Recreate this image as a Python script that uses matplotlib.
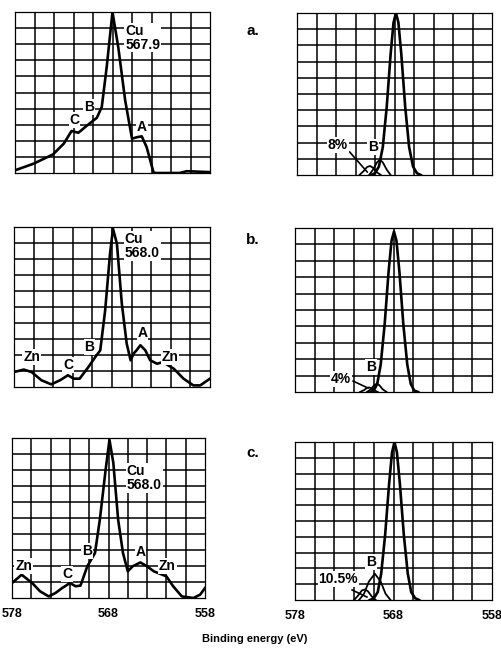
import matplotlib.pyplot as plt

# ----------------------------
# DATOS (eV, intensidad en unidades de 0 a 9)
# ----------------------------

# espectros medidos (columna izquierda)
a_x = [578.0, 576.1, 574.1, 573.0, 572.2, 571.5, 570.6, 569.6, 569.1, 568.6,
       568.0, 567.4, 566.7, 566.0, 565.5, 565.0, 564.5, 563.8, 563.6, 561.1,
       560.4, 558.0]
a_y = [0.15, 0.52, 1.04, 1.64, 2.35, 2.25, 2.66, 3.09, 3.69, 5.9,
       9.0, 7.0, 4.06, 1.92, 2.0, 2.05, 1.45, 0.05, 0.0, 0.0,
       0.1, 0.05]

b_x = [578.0, 577.0, 576.2, 575.2, 574.2, 573.3, 572.5, 571.9, 571.3, 570.4,
       569.7, 569.2, 568.7, 568.2, 567.9, 567.5, 567.0, 566.5, 566.1, 565.8,
       565.5, 565.1, 564.6, 564.1, 563.4, 562.8, 561.7, 560.7, 559.7, 559.0,
       558.0]
b_y = [0.84, 0.98, 0.84, 0.38, 0.15, 0.38, 0.66, 0.47, 0.47, 1.13,
       1.69, 2.06, 4.3, 7.5, 8.9, 8.07, 4.7, 2.44, 1.5, 1.88,
       2.06, 2.35, 2.06, 1.5, 1.31, 1.4, 1.03, 0.47, 0.09, 0.09,
       0.47]

c_x = [578.0, 577.0, 575.9, 575.1, 574.2, 573.5, 572.8, 572.0, 571.4, 570.9,
       570.2, 569.4, 568.9, 568.3, 567.9, 567.5, 567.0, 566.5, 566.0, 565.5,
       564.7, 564.0, 563.3, 562.7, 562.0, 561.3, 560.4, 559.2, 558.5, 558.0]
c_y = [0.84, 1.31, 0.84, 0.38, 0.09, 0.28, 0.56, 0.84, 0.66, 0.7,
       1.78, 2.53, 4.4, 7.2, 8.9, 7.6, 4.4, 2.53, 1.5, 1.78,
       2.0, 1.78, 1.5, 1.37, 1.22, 0.66, 0.09, 0.0, 0.19, 0.56]

# componentes ajustadas (columna derecha)
ra_x = [570.4, 570.0, 569.6, 569.2, 568.8, 568.4, 568.1, 567.85, 567.6, 567.3,
        566.9, 566.5, 566.1, 565.7, 565.3]
ra_y = [0.0, 0.1, 0.47, 1.55, 3.77, 6.7, 8.47, 9.0, 8.47, 6.7,
        3.77, 1.55, 0.47, 0.1, 0.0]
ra_b_x = [570.6, 570.2, 569.8, 569.5, 569.2, 568.8, 568.4]
ra_b_y = [0.0, 0.3, 0.7, 0.85, 0.7, 0.3, 0.0]
ra_c_x = [571.6, 571.2, 570.8, 570.5, 570.2, 569.8, 569.4]
ra_c_y = [0.0, 0.2, 0.45, 0.5, 0.4, 0.15, 0.0]

rb_x = [570.4, 570.0, 569.65, 569.3, 568.9, 568.5, 568.2, 567.95, 567.7, 567.4,
        567.0, 566.6, 566.25, 565.9, 565.5]
rb_y = [0.0, 0.08, 0.45, 1.5, 3.7, 6.6, 8.3, 8.8, 8.3, 6.6,
        3.7, 1.5, 0.45, 0.08, 0.0]
rb_b_x = [570.7, 570.3, 569.95, 569.7, 569.45, 569.1, 568.7]
rb_b_y = [0.0, 0.15, 0.38, 0.45, 0.38, 0.15, 0.0]
rb_c_x = [571.4, 571.0, 570.7, 570.5, 570.3, 570.0, 569.6]
rb_c_y = [0.0, 0.1, 0.22, 0.25, 0.22, 0.1, 0.0]

rc_x = [570.4, 570.0, 569.6, 569.25, 568.85, 568.45, 568.15, 567.9, 567.65, 567.35,
        566.95, 566.55, 566.2, 565.8, 565.4]
rc_y = [0.0, 0.1, 0.45, 1.5, 3.7, 6.6, 8.4, 9.0, 8.4, 6.6,
        3.7, 1.5, 0.45, 0.1, 0.0]
rc_b_x = [571.5, 571.0, 570.5, 569.9, 569.3, 568.8, 568.3]
rc_b_y = [0.0, 0.35, 1.05, 1.5, 1.05, 0.35, 0.0]
rc_c_x = [572.0, 571.6, 571.2, 570.9, 570.6, 570.2, 569.8]
rc_c_y = [0.0, 0.25, 0.55, 0.6, 0.5, 0.2, 0.0]

xticks = [578, 568, 558]

# ----------------------------
# FIGURA
# ----------------------------

fig = plt.figure(figsize=(5.02, 6.52), dpi=100)
plt.rcParams["font.family"] = ["Liberation Sans", "DejaVu Sans"]

W, H = 502, 652


def make_ax(x0, x1, y0, y1):
    ax = fig.add_axes([x0 / W, 1 - y1 / H, (x1 - x0) / W, (y1 - y0) / H])
    ax.set_xlim(578, 558)
    ax.set_ylim(0, 9)
    # papel milimetrado: 10 columnas x 10 filas
    for k in range(1, 10):
        ax.axvline(578 - 2 * k, color="black", lw=1.1, zorder=1)
        ax.axhline(0.9 * k, color="black", lw=1.1, zorder=1)
    for s in ax.spines.values():
        s.set_linewidth(0.9)
    ax.set_xticks([])
    ax.set_yticks([])
    return ax


axes = {
    "a_l": make_ax(15, 210, 12, 173),
    "a_r": make_ax(297, 492, 13, 175),
    "b_l": make_ax(14, 210, 227, 387),
    "b_r": make_ax(295, 492, 228, 392),
    "c_l": make_ax(12, 205, 438, 598),
    "c_r": make_ax(295, 492, 442, 600),
}

lab = dict(fontsize=10, fontweight="bold", ha="center", va="center", zorder=5,
           bbox=dict(facecolor="white", edgecolor="none", pad=0.6))

# ----------------------------
# COLUMNA IZQUIERDA
# ----------------------------

ax = axes["a_l"]
ax.plot(a_x, a_y, color="black", lw=1.9, zorder=3)
ax.text(566.7, 7.57, "Cu\n567.9", linespacing=1.0, **{**lab, "ha": "left"})
ax.text(570.4, 3.69, "B", **lab)
ax.text(571.9, 2.96, "C", **lab)
ax.text(565.0, 2.57, "A", **lab)

ax = axes["b_l"]
ax.plot(b_x, b_y, color="black", lw=1.9, zorder=3)
ax.text(566.7, 7.93, "Cu\n568.0", linespacing=1.0, **{**lab, "ha": "left"})
ax.text(576.2, 1.69, "Zn", **lab)
ax.text(572.5, 1.24, "C", **lab)
ax.text(570.3, 2.25, "B", **lab)
ax.text(564.9, 3.04, "A", **lab)
ax.text(562.1, 1.69, "Zn", **lab)

ax = axes["c_l"]
ax.plot(c_x, c_y, color="black", lw=1.9, zorder=3)
ax.text(566.1, 6.75, "Cu\n568.0", linespacing=1.0, **{**lab, "ha": "left"})
ax.text(570.2, 2.64, "B", **lab)
ax.text(564.7, 2.59, "A", **lab)
ax.text(576.8, 1.8, "Zn", **lab)
ax.text(572.3, 1.35, "C", **lab)
ax.text(561.9, 1.8, "Zn", **lab)

# ----------------------------
# COLUMNA DERECHA
# ----------------------------

for key, mx, my, bx, by, cx, cy, pct, pxy, bxy, lead in [
    ("a_r", ra_x, ra_y, ra_b_x, ra_b_y, ra_c_x, ra_c_y, "8%",
     (573.8, 1.67), (570.2, 1.56), ((572.6, 1.28), (570.8, 0.17))),
    ("b_r", rb_x, rb_y, rb_b_x, rb_b_y, rb_c_x, rb_c_y, "4%",
     (573.3, 0.71), (570.3, 1.37), ((572.1, 0.6), (570.6, 0.22))),
    ("c_r", rc_x, rc_y, rc_b_x, rc_b_y, rc_c_x, rc_c_y, "10.5%",
     (573.6, 1.2), (570.3, 2.16), ((572.2, 0.57), (570.7, 0.17))),
]:
    ax = axes[key]
    ax.plot(mx, my, color="black", lw=1.9, zorder=3)
    ax.plot(bx, by, color="black", lw=1.3, zorder=3)
    ax.plot(cx, cy, color="black", lw=1.3, zorder=3)
    ax.text(pxy[0], pxy[1], pct, **lab)
    ax.text(bxy[0], bxy[1], "B", **lab)
    ax.plot([lead[0][0], lead[1][0]], [lead[0][1], lead[1][1]],
            color="black", lw=1.2, zorder=4)

# ----------------------------
# EJES Y ETIQUETAS
# ----------------------------

for key in ["c_l", "c_r"]:
    ax = axes[key]
    ax.set_xticks(xticks)
    ax.set_xticklabels([str(t) for t in xticks], fontsize=9, fontweight="bold")
    ax.tick_params(axis="x", length=0, pad=7)

fig.text(253 / W, 1 - 31 / H, "a.", fontsize=11, fontweight="bold",
         ha="center", va="center")
fig.text(253 / W, 1 - 240 / H, "b.", fontsize=11, fontweight="bold",
         ha="center", va="center")
fig.text(253 / W, 1 - 453 / H, "c.", fontsize=11, fontweight="bold",
         ha="center", va="center")

fig.text(255 / W, 1 - 639 / H, "Binding energy (eV)", fontsize=8,
         fontweight="bold", ha="center", va="center")

plt.savefig("out.png", dpi=100)
